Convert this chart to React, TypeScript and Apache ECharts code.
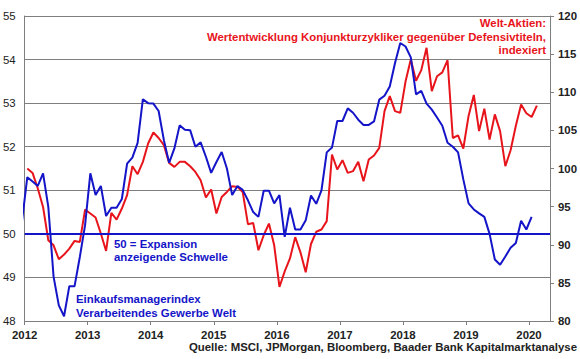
import React, { useEffect, useRef } from "react";
import * as echarts from "echarts";

// Month index 0 = Jan 2012. PMI series starts Dec 2011, equity series starts Jan 2012.
const startYear = 2012;
const yearTicks = [2012, 2013, 2014, 2015, 2016, 2017, 2018, 2019, 2020];

// Einkaufsmanagerindex Verarbeitendes Gewerbe Welt (left axis), Dec 2011 – Jan 2020
const pmiValues = [
  50.3,
  51.3, 51.2, 51.1, 51.39, 50.62, 49.02, 48.36, 48.11, 48.8, 48.8, 49.47, 50.2,
  51.39, 50.89, 51.1, 50.41, 50.6, 50.6, 50.8, 51.61, 51.75, 52.09, 53.09, 53.0,
  52.99, 52.82, 52.15, 51.63, 51.96, 52.49, 52.39, 52.38, 52.0, 52.1, 51.77, 51.4,
  51.65, 51.88, 51.5, 50.89, 51.1, 51.01, 50.77, 50.5, 50.39, 50.99, 50.99, 50.7,
  50.89, 49.93, 50.6, 50.1, 50.1, 50.31, 50.88, 50.69, 51.0, 51.87, 51.98, 52.59,
  52.59, 52.88, 52.78, 52.62, 52.5, 52.5, 52.58, 53.08, 53.17, 53.38, 53.92, 54.38,
  54.3, 54.05, 53.2, 53.28, 52.99, 52.85, 52.67, 52.48, 52.09, 52.0, 51.87, 51.25,
  50.7, 50.56, 50.47, 50.39, 50.0, 49.41, 49.29, 49.48, 49.68, 49.79, 50.3, 50.1,
  50.39,
];

// Welt-Aktien: Konjunkturzykliker vs. Defensivtitel, indexiert (right axis), Jan 2012 – Feb 2020
const equityValues = [
  100.0, 99.42, 97.37, 94.96, 90.59, 89.93, 88.1, 88.71, 89.5, 90.5, 90.37, 94.6,
  94.1, 93.57, 91.47, 89.19, 94.17, 93.3, 94.75, 96.5, 100.3, 99.25, 100.87, 103.28,
  104.72, 104.0, 103.06, 100.74, 100.21, 100.87, 100.87, 100.3, 99.55, 98.46, 96.19, 97.24,
  94.1, 96.27, 96.93, 97.68, 97.59, 96.93, 92.7, 92.86, 89.28, 91.25, 92.78, 89.93,
  84.46, 86.5, 88.2, 91.0, 89.0, 86.4, 90.1, 91.7, 92.0, 93.1, 101.84, 99.87,
  101.09, 99.43, 99.65, 100.87, 98.33, 101.17, 101.7, 102.7, 107.52, 109.49, 107.52, 107.3,
  111.4, 114.3, 111.5, 112.9, 115.83, 110.14, 112.1, 112.6, 114.2, 104.0, 104.35, 102.62,
  106.9, 109.65, 104.9, 107.85, 103.8, 107.1, 104.9, 100.3, 102.4, 105.6, 108.4, 107.25,
  106.75, 108.25,
];

const expansionThreshold = 50;

const BLUE = "#1414c8";
const RED = "#e8141c";
const GRID = "#7f7f7f";
const FONT = '"Liberation Sans", Arial, sans-serif';
const TFONT = `bold 11.4px ${FONT}`;

export default function App() {
  const ref = useRef<HTMLDivElement>(null);

  useEffect(() => {
    if (!ref.current) return;
    const chart = echarts.init(ref.current, undefined, { renderer: "svg" });

    const pmiData = pmiValues.map((v, i) => [i - 0.5, v]);
    const eqData = equityValues.map((v, i) => [i + 0.5, v]);
    const xMax = (yearTicks[yearTicks.length - 1] - startYear) * 12 + 4;

    const txt = (text: string, x: number, y: number, fill: string, align: string) => ({
      type: "text",
      x,
      y,
      silent: true,
      style: { text, fill, font: TFONT, align, verticalAlign: "middle" },
    });

    chart.setOption({
      animation: false,
      backgroundColor: "#ffffff",
      grid: { left: 24, right: 30, top: 16, bottom: 38 },
      xAxis: {
        type: "value",
        min: 0,
        max: xMax,
        interval: 12,
        axisLine: { show: true, lineStyle: { color: GRID, width: 1 } },
        axisTick: { show: true, length: 4, lineStyle: { color: GRID } },
        splitLine: { show: false },
        axisLabel: {
          margin: 8,
          color: "#222",
          fontFamily: FONT,
          fontWeight: "bold",
          fontSize: 11.4,
          showMaxLabel: false,
          formatter: (v: number) => (v % 12 === 0 ? String(startYear + v / 12) : ""),
        },
      },
      yAxis: [
        {
          type: "value",
          min: 48,
          max: 55,
          interval: 1,
          position: "left",
          axisLine: { show: true, lineStyle: { color: GRID, width: 1 } },
          axisTick: { show: false },
          splitLine: { show: true, lineStyle: { color: GRID, width: 1 } },
          axisLabel: { margin: 9, color: "#222", fontFamily: FONT, fontSize: 11.4 },
        },
        {
          type: "value",
          min: 80,
          max: 120,
          interval: 5,
          position: "right",
          axisLine: { show: true, lineStyle: { color: GRID, width: 1 } },
          axisTick: { show: true, inside: false, length: 4, lineStyle: { color: GRID } },
          splitLine: { show: false },
          axisLabel: { margin: 8, color: "#222", fontFamily: FONT, fontWeight: "bold", fontSize: 11.4 },
        },
      ],
      series: [
        {
          type: "line",
          yAxisIndex: 1,
          data: eqData,
          symbol: "none",
          lineStyle: { color: RED, width: 2 },
          itemStyle: { color: RED },
          z: 2,
        },
        {
          type: "line",
          yAxisIndex: 0,
          data: pmiData,
          symbol: "none",
          lineStyle: { color: BLUE, width: 2 },
          itemStyle: { color: BLUE },
          z: 3,
          markLine: {
            silent: true,
            symbol: "none",
            label: { show: false },
            lineStyle: { color: BLUE, width: 2, type: "solid" },
            data: [{ yAxis: expansionThreshold }],
          },
        },
      ],
      graphic: [
        txt("Welt-Aktien:", 546, 23.3, RED, "right"),
        txt("Wertentwicklung Konjunkturzykliker gegenüber Defensivtiteln,", 546, 36.5, RED, "right"),
        txt("indexiert", 546, 49.5, RED, "right"),
        txt("50 = Expansion", 114, 244, BLUE, "left"),
        txt("anzeigende Schwelle", 114, 257.3, BLUE, "left"),
        txt("Einkaufsmanagerindex", 76, 299, BLUE, "left"),
        txt("Verarbeitendes Gewerbe Welt", 76, 312.7, BLUE, "left"),
        txt("Quelle: MSCI, JPMorgan, Bloomberg, Baader Bank Kapitalmarktanalyse", 577, 346.7, "#222", "right"),
      ],
    });

    return () => chart.dispose();
  }, []);

  return (
    <div
      ref={ref}
      style={{ position: "fixed", left: 0, top: 0, width: 580, height: 359, background: "#fff" }}
    />
  );
}
